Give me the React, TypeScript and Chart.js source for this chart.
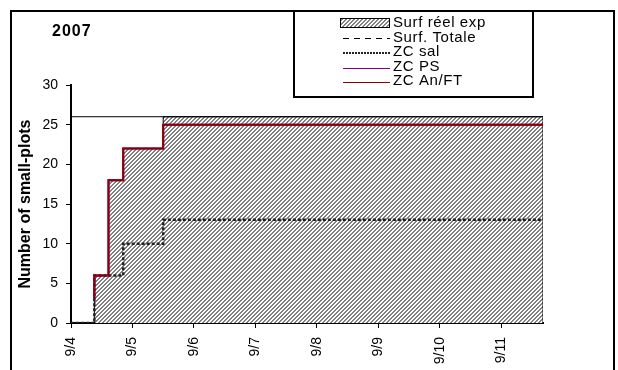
import React, { useEffect, useRef } from "react";
import { Chart, registerables } from "chart.js";

Chart.register(...registerables);

// ---- data ----
const chartTitle = "2007";
const yAxisTitle = "Number of small-plots";
const xTickValues = [0, 1, 2, 3, 4, 5, 6, 7];
const xTickLabels = ["9/4", "9/5", "9/6", "9/7", "9/8", "9/9", "9/10", "9/11"];
const xMin = 0;
const xMax = 7.68;
const yMin = 0;
const yMax = 30;
const yStep = 5;

const surfReelTimes = [0, 0.38, 0.61, 0.85, 1.5, 7.68, 7.68];
const surfReelValues = [0, 6, 18, 22, 26, 26, 0];
const surfTotaleTimes = [0, 7.68];
const surfTotaleValues = [26, 26];
const zcSalTimes = [0, 0.38, 0.85, 1.5, 7.68];
const zcSalValues = [0, 6, 10, 13, 13];
const zcPsTimes = [0.38, 0.38, 0.61, 0.85, 1.5, 7.68];
const zcPsValues = [3, 6, 18, 22, 25, 25];
const zcAnTimes = [0.38, 0.38, 0.61, 0.85, 1.5, 7.68];
const zcAnValues = [3, 6, 18, 22, 25, 25];

const legendLabels = ["Surf réel exp", "Surf. Totale", "ZC sal", "ZC PS", "ZC An/FT"];

const FONT = "'Liberation Sans', Arial, sans-serif";
const RED = "#8b0000";
const PURPLE = "#800080";
const SAL = "#222222";

function pts(xs: number[], ys: number[]) {
  return xs.map((x, i) => ({ x, y: ys[i] }));
}

function makePattern(): CanvasPattern | string {
  const pc = document.createElement("canvas");
  pc.width = 4;
  pc.height = 4;
  const p = pc.getContext("2d");
  if (!p) return "#aaa";
  p.fillStyle = "#ffffff";
  p.fillRect(0, 0, 4, 4);
  p.fillStyle = "#808080";
  for (let x = 0; x < 4; x++)
    for (let y = 0; y < 4; y++) if ((x + y) % 4 < 2) p.fillRect(x, y, 1, 1);
  return p.createPattern(pc, "repeat") || "#aaa";
}

export default function App() {
  const ref = useRef<HTMLCanvasElement | null>(null);

  useEffect(() => {
    const canvas = ref.current;
    if (!canvas) return;
    const hatch = makePattern();

    const decor = {
      id: "decor",
      afterDraw(chart: any) {
        const ctx = chart.ctx as CanvasRenderingContext2D;
        ctx.save();
        // outer frame
        ctx.strokeStyle = "#000";
        ctx.lineWidth = 2;
        ctx.strokeRect(11, 11, 603, 400);
        // title
        ctx.fillStyle = "#000";
        ctx.font = `bold 16px ${FONT}`;
        (ctx as any).letterSpacing = "1px";
        ctx.textBaseline = "middle";
        ctx.textAlign = "left";
        ctx.fillText(chartTitle, 52, 32);
        // legend box
        ctx.fillStyle = "#fff";
        ctx.fillRect(294, 11, 239, 86);
        ctx.lineWidth = 2;
        ctx.strokeRect(294, 11, 239, 86);
        const ys = [23, 38, 52, 67, 81];
        const x0 = 340;
        const x1 = 390;
        // swatch
        ctx.fillStyle = hatch as any;
        ctx.fillRect(x0, ys[0] - 4.5, x1 - x0, 9);
        ctx.lineWidth = 1;
        ctx.strokeStyle = "#000";
        ctx.strokeRect(x0 + 0.5, ys[0] - 4.5, x1 - x0 - 1, 9);
        // dashed
        ctx.beginPath();
        ctx.setLineDash([6, 5]);
        ctx.moveTo(x0 + 3, ys[1] + 0.5);
        ctx.lineTo(x1, ys[1] + 0.5);
        ctx.stroke();
        // sal
        ctx.beginPath();
        ctx.strokeStyle = SAL;
        ctx.lineWidth = 2;
        ctx.setLineDash([2, 1]);
        ctx.moveTo(x0 + 3, ys[2] + 1);
        ctx.lineTo(x1, ys[2] + 1);
        ctx.stroke();
        ctx.setLineDash([]);
        ctx.lineWidth = 1;
        ctx.beginPath();
        ctx.strokeStyle = PURPLE;
        ctx.moveTo(x0 + 3, ys[3] + 1.5);
        ctx.lineTo(x1, ys[3] + 1.5);
        ctx.stroke();
        ctx.beginPath();
        ctx.strokeStyle = RED;
        ctx.moveTo(x0 + 3, ys[4] + 1.5);
        ctx.lineTo(x1, ys[4] + 1.5);
        ctx.stroke();
        // texts
        ctx.fillStyle = "#000";
        ctx.font = `15px ${FONT}`;
        (ctx as any).letterSpacing = "0.6px";
        legendLabels.forEach((t, i) => ctx.fillText(t, 393, ys[i]));
        ctx.restore();
      },
    };

    const chart = new Chart(canvas, {
      type: "line",
      data: {
        datasets: [
          {
            label: legendLabels[0],
            data: pts(surfReelTimes, surfReelValues),
            stepped: "before",
            fill: "origin",
            backgroundColor: hatch as any,
            borderColor: "#000",
            borderWidth: 1,
            pointRadius: 0,
            order: 5,
          },
          {
            label: legendLabels[1],
            data: pts(surfTotaleTimes, surfTotaleValues),
            stepped: "before",
            borderColor: "#000",
            borderWidth: 1,
            pointRadius: 0,
            fill: false,
            order: 4,
          },
          {
            label: legendLabels[2],
            data: pts(zcSalTimes, zcSalValues),
            stepped: "before",
            borderColor: SAL,
            borderWidth: 2.5,
            borderDash: [3, 2],
            pointRadius: 0,
            fill: false,
            order: 3,
          },
          {
            label: legendLabels[3],
            data: pts(zcPsTimes, zcPsValues),
            stepped: "before",
            borderColor: PURPLE,
            borderWidth: 2,
            pointRadius: 0,
            fill: false,
            order: 2,
          },
          {
            label: legendLabels[4],
            data: pts(zcAnTimes, zcAnValues),
            stepped: "before",
            borderColor: RED,
            borderWidth: 2,
            pointRadius: 0,
            fill: false,
            order: 1,
          },
        ],
      },
      options: {
        responsive: false,
        animation: false,
        events: [],
        layout: { padding: { left: 0, right: 75, top: 85, bottom: 0 } },
        plugins: {
          legend: { display: false },
          tooltip: { enabled: false },
          title: { display: false },
        },
        scales: {
          x: {
            type: "linear",
            min: xMin,
            max: xMax,
            afterFit: (s: any) => {
              s.height = 47;
            },
            afterBuildTicks: (s: any) => {
              s.ticks = xTickValues.map((v) => ({ value: v }));
            },
            grid: {
              display: true,
              drawOnChartArea: false,
              drawTicks: true,
              tickLength: 5,
              color: "#000",
              tickWidth: 1,
            },
            border: { display: true, color: "#000", width: 2 },
            ticks: {
              autoSkip: false,
              minRotation: 90,
              maxRotation: 90,
              padding: 9,
              color: "#000",
              font: { family: FONT, size: 14 },
              callback: (_v: any, i: number) => xTickLabels[i],
            },
          },
          y: {
            type: "linear",
            min: yMin,
            max: yMax,
            afterFit: (s: any) => {
              s.width = 71;
            },
            grid: {
              display: true,
              drawOnChartArea: false,
              drawTicks: true,
              tickLength: 5,
              color: "#000",
              tickWidth: 1,
            },
            border: { display: true, color: "#000", width: 2 },
            ticks: {
              stepSize: yStep,
              padding: 8,
              color: "#000",
              font: { family: FONT, size: 14 },
            },
            title: {
              display: true,
              text: yAxisTitle,
              color: "#000",
              padding: { top: 16, bottom: 0 },
              font: { family: FONT, size: 16, weight: "bold" },
            },
          },
        },
      },
      plugins: [decor],
    });
    return () => chart.destroy();
  }, []);

  return (
    <div style={{ position: "absolute", left: 0, top: 0, width: 618, height: 370, background: "#fff" }}>
      <canvas ref={ref} width={618} height={370} style={{ display: "block" }} />
    </div>
  );
}
